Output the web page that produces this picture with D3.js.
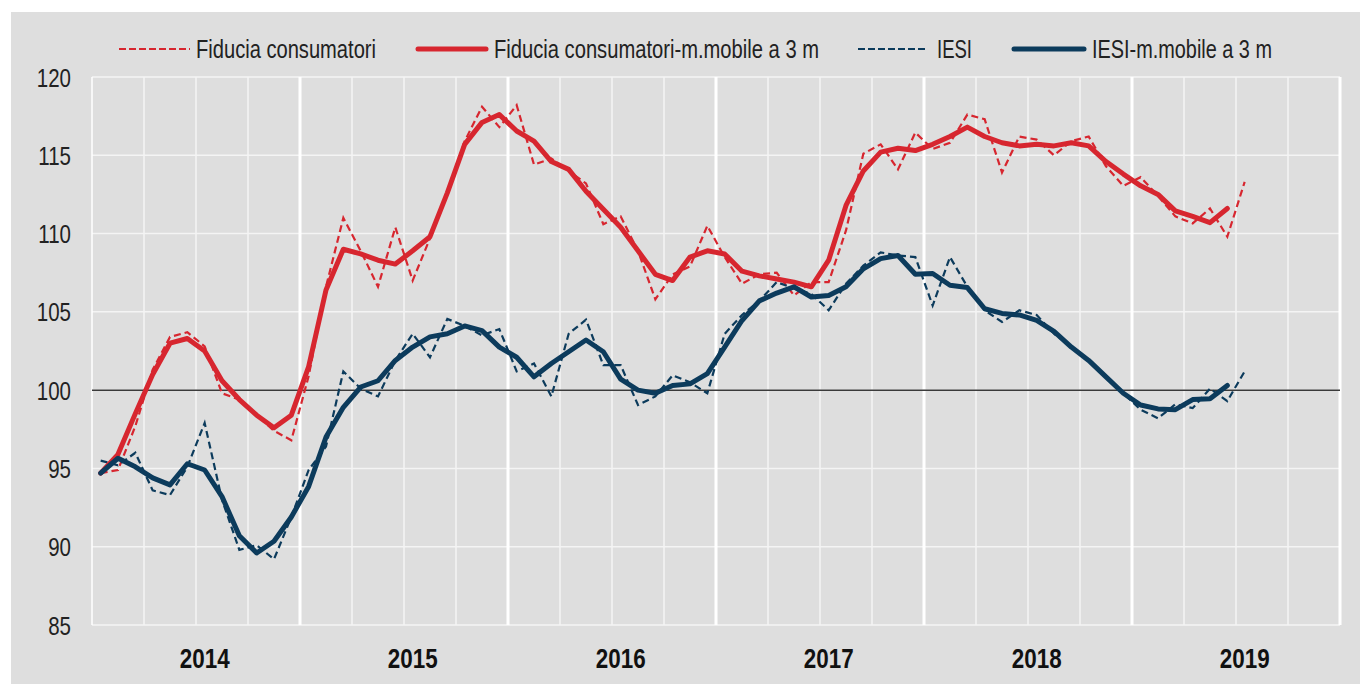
<!DOCTYPE html>
<html>
<head>
<meta charset="utf-8">
<script src="https://cdn.jsdelivr.net/npm/d3@7"></script>
<style>
  html, body { margin: 0; padding: 0; background: #ffffff; }
  svg { display: block; }
  text { font-family: "Liberation Sans", Arial, sans-serif; }
</style>
</head>
<body>
<svg id="chart" width="1360" height="684"></svg>
<script>
// ---- data ----
const years = ["2014", "2015", "2016", "2017", "2018", "2019"];
const yTicks = [85, 90, 95, 100, 105, 110, 115, 120];

// monthly values, Jan 2014 onwards
const fiducia = [94.7, 94.9, 97.7, 101.3, 103.4, 103.7, 102.8, 99.8, 99.4, 98.4, 97.4, 96.8,
  100.9, 106.6, 111.0, 108.9, 106.6, 110.4, 107.0, 109.7, 112.6, 115.9, 118.1, 116.8,
  118.2, 114.4, 114.8, 114.0, 113.2, 110.6, 111.1, 108.9, 105.8, 107.4, 107.9, 110.5,
  108.5, 106.8, 107.4, 107.5, 106.05, 106.9, 106.9, 110.2, 115.1, 115.7, 114.1, 116.45,
  115.4, 115.8, 117.6, 117.3, 113.9, 116.2, 116.0, 115.0, 115.9, 116.2, 114.3, 113.05,
  113.6, 112.4, 111.1, 110.65, 111.6, 109.8, 113.3];
const fiduciaMM = [94.7, 95.9, 98.5, 101.0, 103.0, 103.3, 102.5, 100.6, 99.4, 98.4, 97.6, 98.4,
  101.5, 106.4, 109.0, 108.7, 108.3, 108.05, 108.9, 109.8, 112.6, 115.7, 117.1, 117.6,
  116.55, 115.9, 114.6, 114.1, 112.7, 111.55, 110.4, 108.9, 107.4, 107.0, 108.5, 108.9,
  108.7, 107.6, 107.3, 107.1, 106.9, 106.6, 108.3, 111.8, 114.0, 115.2, 115.45, 115.3,
  115.7, 116.2, 116.8, 116.2, 115.8, 115.6, 115.7, 115.6, 115.8, 115.6, 114.6, 113.8,
  113.05, 112.5, 111.45, 111.1, 110.7, 111.6];
const iesi = [95.5, 95.2, 96.0, 93.6, 93.3, 95.1, 97.9, 93.0, 89.8, 90.1, 89.2, 91.9,
  94.9, 96.4, 101.2, 100.1, 99.6, 101.9, 103.6, 102.1, 104.55, 104.1, 103.5, 103.9,
  101.2, 101.7, 99.6, 103.6, 104.5, 101.6, 101.6, 99.05, 99.6, 100.95, 100.5, 99.8,
  103.6, 104.8, 105.7, 106.9, 106.5, 106.15, 105.1, 106.8, 107.95, 108.8, 108.6, 108.5,
  105.4, 108.5, 106.6, 105.1, 104.35, 105.1, 104.8, 103.6, 102.75, 101.9, 100.9, 99.8,
  98.75, 98.2, 99.1, 98.85, 100.1, 99.3, 101.2];
const iesiMM = [94.7, 95.65, 95.1, 94.4, 93.95, 95.3, 94.9, 93.2, 90.7, 89.6, 90.35, 91.9,
  93.85, 97.0, 98.9, 100.2, 100.6, 101.9, 102.75, 103.4, 103.6, 104.1, 103.8, 102.75,
  102.1, 100.85, 101.7, 102.45, 103.2, 102.45, 100.7, 100.0, 99.8, 100.3, 100.4, 101.05,
  102.75, 104.45, 105.7, 106.2, 106.6, 105.95, 106.05, 106.6, 107.75, 108.4, 108.6, 107.4,
  107.45, 106.7, 106.55, 105.2, 104.9, 104.8, 104.45, 103.75, 102.75, 101.9, 100.85, 99.8,
  99.05, 98.8, 98.75, 99.4, 99.45, 100.3];

const seriesNames = ["Fiducia consumatori", "Fiducia consumatori-m.mobile a 3 m", "IESI", "IESI-m.mobile a 3 m"];

// ---- styling ----
const RED = "#d7262f";
const BLUE = "#0c3b5c";
const BG = "#dedede";
const NARROW = 0.82; // horizontal condensation to mimic a narrow face

const svg = d3.select("#chart");
const W = 1360, H = 684;
const plot = { left: 92, right: 1340, top: 77, bottom: 625 };

// background
svg.append("rect").attr("x", 11).attr("y", 12).attr("width", W - 11).attr("height", H - 12).attr("fill", BG);

// months
const months = d3.timeMonths(new Date(2014, 0, 1), new Date(2020, 0, 1));
const x = d3.scaleBand().domain(months.map(d => +d)).range([plot.left, plot.right]).padding(0);
const bw = x.bandwidth();
const y = d3.scaleLinear().domain([85, 120]).range([plot.bottom, plot.top]);
const xm = i => x(+months[i]) + bw / 2;

// horizontal grid
svg.append("g").selectAll("line").data(yTicks).join("line")
  .attr("x1", plot.left).attr("x2", plot.right)
  .attr("y1", d => y(d)).attr("y2", d => y(d))
  .attr("stroke", "#f4f4f4").attr("stroke-width", 1.5);

// vertical grid: quarters thin, years thick
const qMonths = months.filter(d => d.getMonth() % 3 === 0);
svg.append("g").selectAll("line").data(qMonths).join("line")
  .attr("x1", d => x(+d)).attr("x2", d => x(+d))
  .attr("y1", plot.top).attr("y2", plot.bottom)
  .attr("stroke", d => d.getMonth() === 0 ? "#ffffff" : "#f4f4f4")
  .attr("stroke-width", d => (d.getMonth() === 0 && d.getFullYear() > 2014) ? 3 : 1.5);
svg.append("line").attr("x1", plot.right).attr("x2", plot.right).attr("y1", plot.top).attr("y2", plot.bottom)
  .attr("stroke", "#ffffff").attr("stroke-width", 3);

// reference line at 100
svg.append("line").attr("x1", plot.left).attr("x2", plot.right)
  .attr("y1", y(100)).attr("y2", y(100)).attr("stroke", "#3a3a3a").attr("stroke-width", 1.5);

// y axis labels (condensed)
const yAxis = d3.axisLeft(y).tickValues(yTicks).tickSize(0).tickPadding(0);
const gy = svg.append("g").attr("transform", `translate(${plot.left},0)`).call(yAxis);
gy.select(".domain").remove();
gy.selectAll(".tick text")
  .attr("x", 0).attr("dy", "0.36em")
  .attr("font-size", 25).attr("fill", "#222")
  .attr("transform", `translate(-21,0) scale(${NARROW},1)`)
  .style("font-family", '"Liberation Sans", Arial, sans-serif');

// year labels (centred on July of each year)
svg.append("g").selectAll("text").data(years).join("text")
  .attr("transform", d => `translate(${x(+new Date(+d, 6, 1)) + bw / 2},668) scale(0.83,1)`)
  .attr("text-anchor", "middle")
  .attr("font-size", 27).attr("font-weight", "bold").attr("fill", "#111")
  .text(d => d);

// lines
const line = d3.line().x((d, i) => xm(i)).y(d => y(d));
svg.append("path").attr("d", line(fiducia)).attr("fill", "none").attr("stroke", RED)
  .attr("stroke-width", 2.2).attr("stroke-dasharray", "7,4");
svg.append("path").attr("d", line(iesi)).attr("fill", "none").attr("stroke", BLUE)
  .attr("stroke-width", 2.2).attr("stroke-dasharray", "7,4");
svg.append("path").attr("d", line(fiduciaMM)).attr("fill", "none").attr("stroke", RED)
  .attr("stroke-width", 5).attr("stroke-linejoin", "round").attr("stroke-linecap", "round");
svg.append("path").attr("d", line(iesiMM)).attr("fill", "none").attr("stroke", BLUE)
  .attr("stroke-width", 5).attr("stroke-linejoin", "round").attr("stroke-linecap", "round");

// legend
const legendItems = [
  { name: seriesNames[0], color: RED, dashed: true, x1: 119, x2: 190, tx: 196, w: 180 },
  { name: seriesNames[1], color: RED, dashed: false, x1: 418, x2: 486, tx: 494, w: 325 },
  { name: seriesNames[2], color: BLUE, dashed: true, x1: 858, x2: 928, tx: 937, w: 35 },
  { name: seriesNames[3], color: BLUE, dashed: false, x1: 1014, x2: 1084, tx: 1092, w: 180 }
];
const lg = svg.append("g");
legendItems.forEach(it => {
  lg.append("line").attr("x1", it.x1).attr("x2", it.x2).attr("y1", 49).attr("y2", 49)
    .attr("stroke", it.color).attr("stroke-width", it.dashed ? 2.2 : 5)
    .attr("stroke-dasharray", it.dashed ? "7,3" : null)
    .attr("stroke-linecap", it.dashed ? "butt" : "round");
  lg.append("text").attr("x", it.tx).attr("y", 58).attr("font-size", 25).attr("fill", "#222")
    .attr("textLength", it.w).attr("lengthAdjust", "spacingAndGlyphs")
    .text(it.name);
});
</script>
</body>
</html>
